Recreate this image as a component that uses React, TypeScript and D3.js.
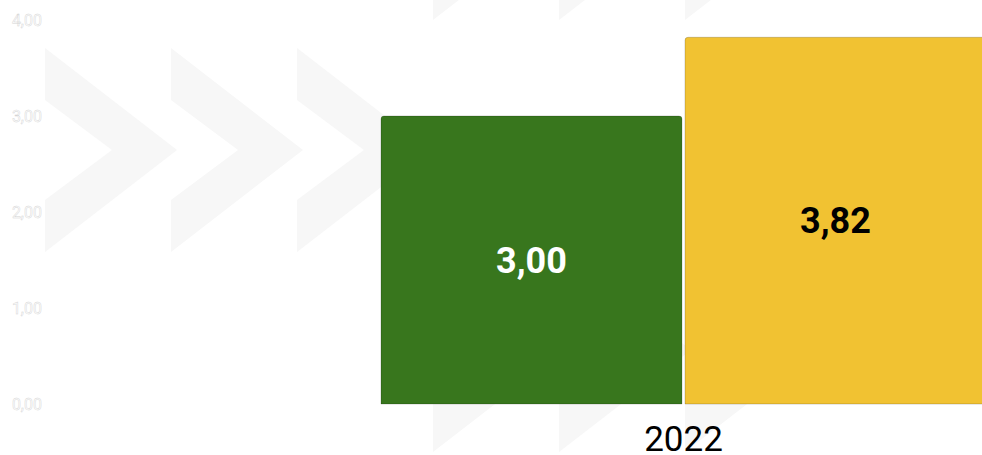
import * as d3 from "d3";
import { useEffect, useRef } from "react";

const categories = ["2022"];
const seriesNames = ["Série A", "Série B"];
const seriesValues = [3.0, 3.82];
const seriesColors = ["#38761d", "#f1c232"];
const labelColors = ["#ffffff", "#000000"];
const yTicks = [0, 1, 2, 3, 4];

// faint chevron watermark behind the chart (decoration only)
const chevronRows = [
  { top: 48, lefts: [45, 171, 297] },
  { top: -184, lefts: [433, 559, 685] },
  { top: 248, lefts: [433, 559, 685] },
];

const W = 982;
const H = 455;

const locale = d3.formatLocale({
  decimal: ",",
  thousands: ".",
  grouping: [3],
  currency: ["", ""],
});
const fmt = locale.format(".2f");

const App = () => {
  const svgRef = useRef<SVGSVGElement | null>(null);

  useEffect(() => {
    document.body.style.margin = "0";
    const svg = d3.select(svgRef.current);
    svg.selectAll("*").remove();
    svg.attr("width", W).attr("height", H);

    // watermark
    const chevron = "M0,0 L132,102 L0,204 L0,152 L67,102 L0,52 Z";
    const wm = svg.append("g").attr("class", "watermark");
    chevronRows.forEach((row) => {
      row.lefts.forEach((x) => {
        wm.append("path")
          .attr("d", chevron)
          .attr("transform", `translate(${x}, ${row.top})`)
          .attr("fill", "#f7f7f7");
      });
    });

    const y = d3.scaleLinear().domain([0, 4]).range([404, 20]);
    const x0 = d3.scaleBand<string>().domain(categories).range([381, 986]);
    const x1 = d3
      .scaleBand<string>()
      .domain(seriesNames)
      .range([0, x0.bandwidth()])
      .paddingInner(0.01);

    // y tick labels (outlined)
    svg
      .append("g")
      .selectAll("text")
      .data(yTicks)
      .enter()
      .append("text")
      .attr("x", 42)
      .attr("y", (d) => y(d))
      .attr("dy", "0.35em")
      .attr("text-anchor", "end")
      .attr("font-family", "Roboto, sans-serif")
      .attr("font-size", 16)
      .attr("fill", "#ffffff")
      .attr("stroke", "#d4d4d4")
      .attr("stroke-width", 0.45)
      .text((d) => fmt(d));

    const r = 3;
    const barPath = (x: number, top: number, w: number, bottom: number) =>
      `M${x},${bottom} L${x},${top + r} Q${x},${top} ${x + r},${top} L${x + w - r},${top} Q${x + w},${top} ${x + w},${top + r} L${x + w},${bottom} Z`;

    const g = svg
      .append("g")
      .attr("transform", `translate(${x0(categories[0])}, 0)`);

    g.selectAll("path.bar")
      .data(seriesValues)
      .enter()
      .append("path")
      .attr("class", "bar")
      .attr("d", (d, i) =>
        barPath(x1(seriesNames[i]) as number, y(d), x1.bandwidth(), y(0))
      )
      .attr("fill", (_, i) => seriesColors[i])
      .attr("stroke", "rgba(0,0,0,0.18)")
      .attr("stroke-width", 1);

    g.selectAll("text.val")
      .data(seriesValues)
      .enter()
      .append("text")
      .attr("class", "val")
      .attr(
        "x",
        (_, i) => (x1(seriesNames[i]) as number) + x1.bandwidth() / 2
      )
      .attr("y", (d) => (y(d) + y(0)) / 2)
      .attr("dy", "0.35em")
      .attr("text-anchor", "middle")
      .attr("font-family", "Roboto, sans-serif")
      .attr("font-weight", "bold")
      .attr("font-size", 36)
      .attr("fill", (_, i) => labelColors[i])
      .text((d) => fmt(d));

    // category label
    svg
      .append("g")
      .selectAll("text")
      .data(categories)
      .enter()
      .append("text")
      .attr("x", (d) => (x0(d) as number) + x0.bandwidth() / 2)
      .attr("y", 451)
      .attr("text-anchor", "middle")
      .attr("font-family", "Roboto, sans-serif")
      .attr("font-size", 35)
      .attr("fill", "#000000")
      .text((d) => d);
  }, []);

  return <svg ref={svgRef} style={{ display: "block" }}></svg>;
};

export default App;
